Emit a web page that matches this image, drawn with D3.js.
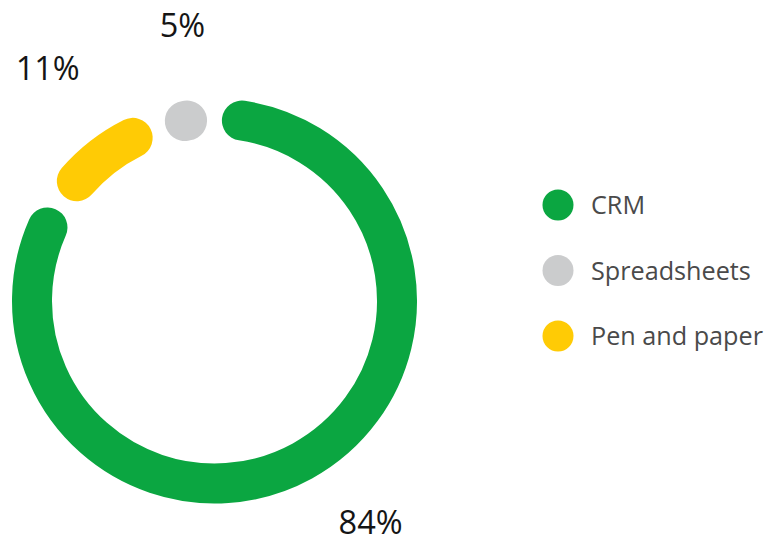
<!DOCTYPE html>
<html>
<head>
<meta charset="utf-8">
<script src="https://cdn.jsdelivr.net/npm/d3@7"></script>
<style>
  html, body { margin: 0; padding: 0; background: #ffffff; }
  svg { display: block; }
</style>
</head>
<body>
<svg id="chart" width="769" height="543"></svg>
<script>
// Share of teams by tool used to track leads
const categories = ["CRM", "Pen and paper", "Spreadsheets"];
const values = [84, 11, 5];
const valueLabels = ["84%", "11%", "5%"];
const colors = ["#0ba641", "#ffcb05", "#cbcccd"];

// Legend order
const legendItems = ["CRM", "Spreadsheets", "Pen and paper"];

const width = 769, height = 543;
const cx = 214.5, cy = 301;
const ringRadius = 182.5;   // centre line of the ring
const thickness = 40;
const gapPx = 15;           // clear space between neighbouring segments

const svg = d3.select("#chart");

const data = categories.map((c, i) => ({ category: c, value: values[i], label: valueLabels[i], color: colors[i] }));

const pie = d3.pie().sort(null).value(d => d.value).startAngle(0).endAngle(2 * Math.PI);
const arcs = pie(data);

// Each segment is a stroked arc with round caps, trimmed so the caps and the gap fit inside its slice
const pad = (thickness / 2 + gapPx / 2) / ringRadius;
const minSweep = 0.002;

const g = svg.append("g").attr("transform", `translate(${cx},${cy})`);

g.selectAll("path.seg")
  .data(arcs)
  .join("path")
  .attr("class", "seg")
  .attr("d", d => {
    let a0 = d.startAngle + pad;
    let a1 = d.endAngle - pad;
    if (a1 - a0 < minSweep) {
      const m = (d.startAngle + d.endAngle) / 2;
      a0 = m - minSweep / 2;
      a1 = m + minSweep / 2;
    }
    const p = d3.path();
    p.arc(0, 0, ringRadius, a0 - Math.PI / 2, a1 - Math.PI / 2, false);
    return p.toString();
  })
  .attr("fill", "none")
  .attr("stroke", d => d.data.color)
  .attr("stroke-width", thickness)
  .attr("stroke-linecap", "round");

// Percentage labels outside the ring, on each slice's middle angle, kept inside the canvas
const labelRadius = 295;
const labelShiftX = 14;
g.selectAll("text.pct")
  .data(arcs)
  .join("text")
  .attr("class", "pct")
  .attr("x", d => labelShiftX + labelRadius * Math.sin((d.startAngle + d.endAngle) / 2))
  .attr("y", d => {
    const y = -labelRadius * Math.cos((d.startAngle + d.endAngle) / 2);
    return Math.max(25 - cy, Math.min(height - 21 - cy, y));
  })
  .attr("text-anchor", "middle")
  .attr("dy", "0.36em")
  .attr("font-family", "'Open Sans', 'Noto Sans', sans-serif")
  .attr("font-size", 32.5)
  .attr("fill", "#151515")
  .text(d => d.data.label);

// Legend
const colorOf = d3.scaleOrdinal().domain(categories).range(colors);
const legendY = d3.scalePoint().domain(legendItems).range([205, 336]);

const legend = svg.append("g");
const item = legend.selectAll("g.item")
  .data(legendItems)
  .join("g")
  .attr("class", "item")
  .attr("transform", d => `translate(558,${legendY(d)})`);

item.append("circle")
  .attr("r", 15.5)
  .attr("fill", d => colorOf(d));

item.append("text")
  .attr("x", 33)
  .attr("dy", "0.36em")
  .attr("font-family", "'Open Sans', 'Noto Sans', sans-serif")
  .attr("font-size", 25.2)
  .attr("fill", "#4a4a4a")
  .text(d => d);
</script>
</body>
</html>
